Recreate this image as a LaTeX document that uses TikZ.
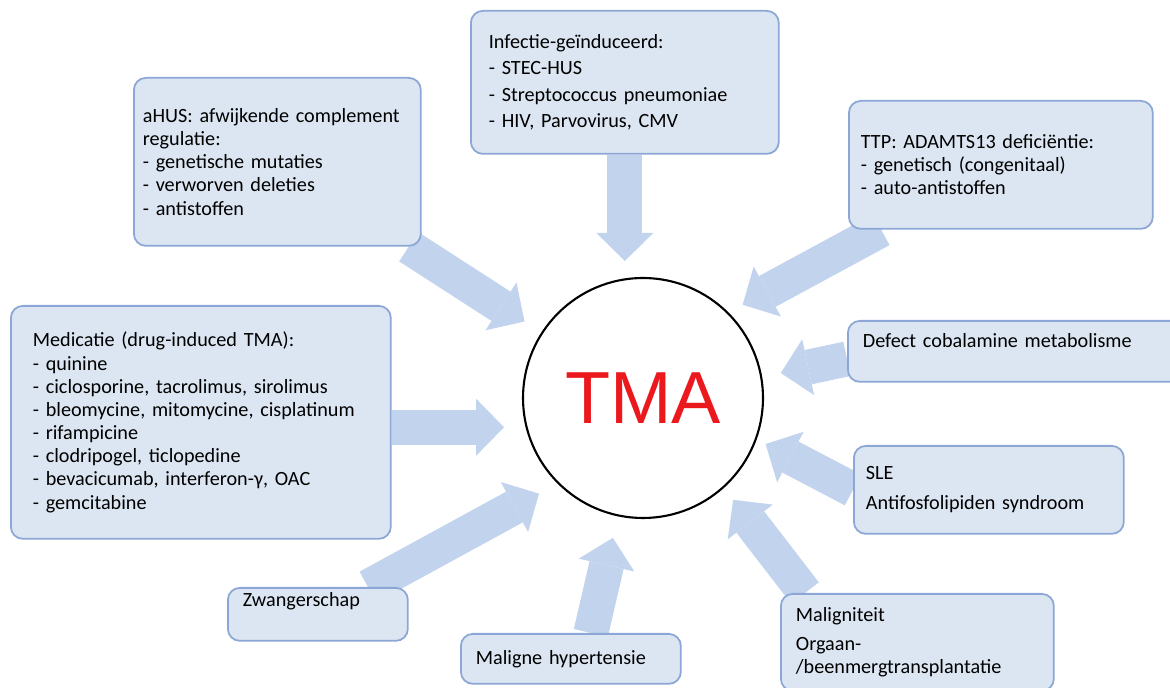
\documentclass[tikz,border=0pt]{standalone}
\usepackage{fontspec}
\setmainfont{Carlito}
\newfontfamily\arialfont{Liberation Sans}
\usetikzlibrary{arrows.meta, backgrounds}
\definecolor{boxfill}{RGB}{220,230,242}
\definecolor{boxline}{RGB}{140,167,213}
\definecolor{flowblue}{RGB}{194,212,237}
\definecolor{tmared}{RGB}{235,25,30}

\begin{document}
\begin{tikzpicture}[
    x=0.02cm, y=-0.02cm,
    cause/.style={rectangle, rounded corners=0.24cm, draw=boxline, line width=1pt, fill=boxfill, anchor=north west, align=left, inner xsep=0pt, font=\fontsize{11.5}{13.2}\selectfont},
    core/.style={circle, draw, line width=1.2pt, fill=white, minimum size=4.8cm, inner sep=0pt, text=tmared, font=\arialfont\fontsize{42}{42}\selectfont},
    flow/.style={draw=flowblue, line width=0.7cm, -{Triangle[width=1.14cm, length=0.56cm, line width=0pt]}}
]
\useasboundingbox (0,0) rectangle (1170,688);

% Nodes
\node (tma) [core] at (643,398) {TMA};
\node (inf) [cause, minimum width=6.16cm, minimum height=2.86cm, text width=5.44cm, font=\fontsize{11.5}{15}\selectfont] at (470,10) {Infectie-geïnduceerd:\\- STEC-HUS\\- Streptococcus pneumoniae\\- HIV, Parvovirus, CMV};
\node (ahus) [cause, minimum width=5.74cm, minimum height=3.36cm, text width=5.38cm] at (133,77) {aHUS: afwijkende complement\\regulatie:\\- genetische mutaties\\- verworven deleties\\- antistoffen};
\node (ttp) [cause, minimum width=6.08cm, minimum height=2.56cm, text width=5.6cm] at (848,100) {TTP: ADAMTS13 deficiëntie:\\- genetisch (congenitaal)\\- auto-antistoffen};
\node (med) [cause, minimum width=7.6cm, minimum height=4.66cm, text width=6.72cm] at (10,305) {Medicatie (drug-induced TMA):\\- quinine\\- ciclosporine, tacrolimus, sirolimus\\- bleomycine, mitomycine, cisplatinum\\- rifampicine\\- clodripogel, ticlopedine\\- bevacicumab, interferon-γ, OAC\\- gemcitabine};
\node (def) [cause, minimum width=6.8cm, minimum height=1.22cm, text width=6.2cm, text height=0.26cm, text depth=0.42cm] at (847,320) {Defect cobalamine metabolisme};
\node (sle) [cause, minimum width=5.4cm, minimum height=1.76cm, text width=4.92cm] at (853,445) {SLE\\[4pt]Antifosfolipiden syndroom};
\node (zw) [cause, minimum width=3.6cm, minimum height=1.06cm, text width=3.0cm, text height=0.25cm, text depth=0.55cm] at (227,587) {Zwangerschap};
\node (hyp) [cause, minimum width=4.4cm, minimum height=1.0cm, text width=3.8cm] at (460,633) {Maligne hypertensie};
\node (mal) [cause, minimum width=5.46cm, minimum height=1.94cm, text width=4.86cm] at (780,593) {Maligniteit\\[3pt]Orgaan-\\/beenmergtransplantatie};

% Connections
\begin{scope}[on background layer]
\draw [flow, shorten >=0.32cm] (inf) -- (inf |- tma.north);
\draw [flow, shorten >=0.4cm] (ahus) -- (tma);
\draw [flow, shorten >=0.32cm] (ttp) -- (tma.45);
\draw [flow, shorten >=0.38cm] ([yshift=-0.15cm]def.west) -- (tma.10);
\draw [flow, shorten >=0.2cm] (sle.west) -- (tma.340);
\draw [flow, shorten >=0.3cm] ([xshift=0.5cm]mal.north west) -- (tma.312);
\draw [flow, shorten >=0.44cm] ([xshift=0.4cm]hyp.north) -- (tma.258);
\draw [flow, shorten >=0.42cm] (zw) -- (tma.225);
\draw [flow, shorten >=0.43cm] (med.east |- tma.194) -- (tma.194);
\end{scope}

\end{tikzpicture}
\end{document}
